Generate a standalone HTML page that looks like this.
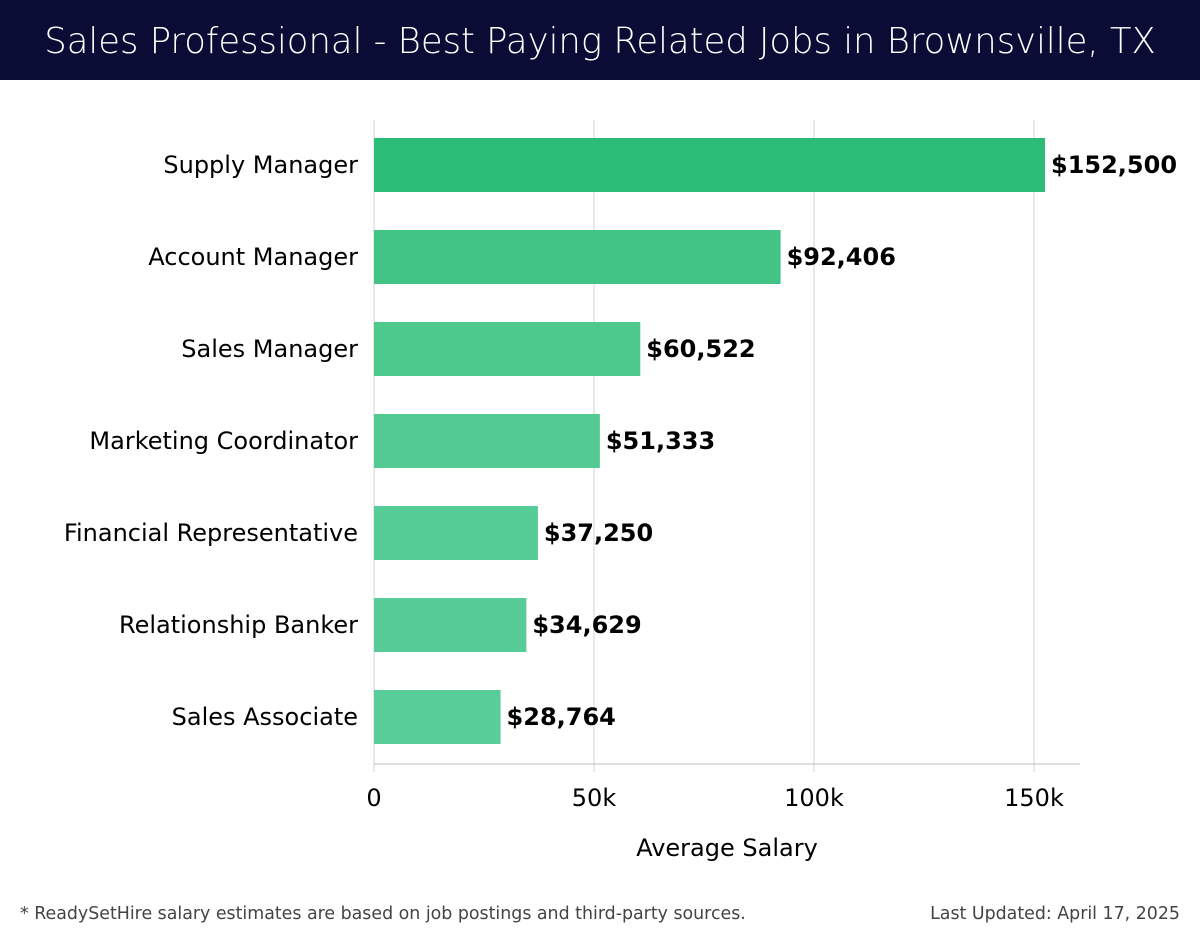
<!DOCTYPE html>
<html><head><meta charset="utf-8"><style>
body{margin:0;width:1200px;height:940px;background:#fff;overflow:hidden;font-family:"DejaVu Sans","Liberation Sans",sans-serif}
#hdr{position:absolute;left:0;top:0;width:1200px;height:80px;background:#0b0c35;color:#fff;font-size:35.4px;text-align:center;line-height:84px;font-family:"DejaVu Sans",sans-serif;font-weight:300}
</style></head><body>
<div id="hdr">Sales Professional - Best Paying Related Jobs in Brownsville, TX</div>
<svg id="c" width="1200" height="940" style="position:absolute;left:0;top:0"></svg>
<script>
const categories=["Supply Manager","Account Manager","Sales Manager","Marketing Coordinator","Financial Representative","Relationship Banker","Sales Associate"];
const salaries=[152500,92406,60522,51333,37250,34629,28764];
const valueLabels=["$152,500","$92,406","$60,522","$51,333","$37,250","$34,629","$28,764"];
const tickValues=[0,50000,100000,150000];
const tickLabels=["0","50k","100k","150k"];
const colors=["#2bbd78","#42c487","#4dc98e","#52ca92","#56cc97","#57cc98","#58cd99"];
{
const NS="http://www.w3.org/2000/svg";
const svg=document.getElementById('c');
const x0=374,pxPer=220/50000,plotTop=120,step=92,bh=54,axisY=764,right=1080;
const xs=v=>x0+v*pxPer;
const yc=i=>plotTop+45+i*step;
function mk(t,a,txt){const e=document.createElementNS(NS,t);for(const k in a)e.setAttribute(k,a[k]);if(txt!==undefined)e.textContent=txt;svg.appendChild(e);return e;}
tickValues.forEach((v,i)=>{
 const g=mk('line',{x1:xs(v),x2:xs(v),y1:plotTop,y2:axisY+8,stroke:'#dddddd','stroke-width':1.3});
 
 
 const t=mk('text',{x:xs(v),y:806,'text-anchor':'middle','font-size':24,fill:'#000'},tickLabels[i]);
 
 
});
const ax=mk('line',{x1:x0,x2:right,y1:axisY,y2:axisY,stroke:'#cccccc','stroke-width':1.3});


categories.forEach((c,i)=>{
 const r=mk('rect',{x:x0,y:yc(i)-bh/2,width:xs(salaries[i])-x0,height:bh,fill:colors[i]});
 
 
 const l=mk('text',{x:358,y:yc(i)+8,'text-anchor':'end','font-size':24,fill:'#000'},c);
 
 
 const v=mk('text',{x:xs(salaries[i])+6,y:yc(i)+8,'font-size':24,'font-weight':'bold',fill:'#000'},valueLabels[i]);
 
 
});
const at=mk('text',{x:727,y:856,'text-anchor':'middle','font-size':24,fill:'#000'},'Average Salary');


const f1=mk('text',{x:20,y:919,'font-size':17.4,fill:'#444'},'* ReadySetHire salary estimates are based on job postings and third-party sources.');


const f2=mk('text',{x:1180,y:919,'text-anchor':'end','font-size':17.4,fill:'#444'},'Last Updated: April 17, 2025');


}
</script>
</body></html>
